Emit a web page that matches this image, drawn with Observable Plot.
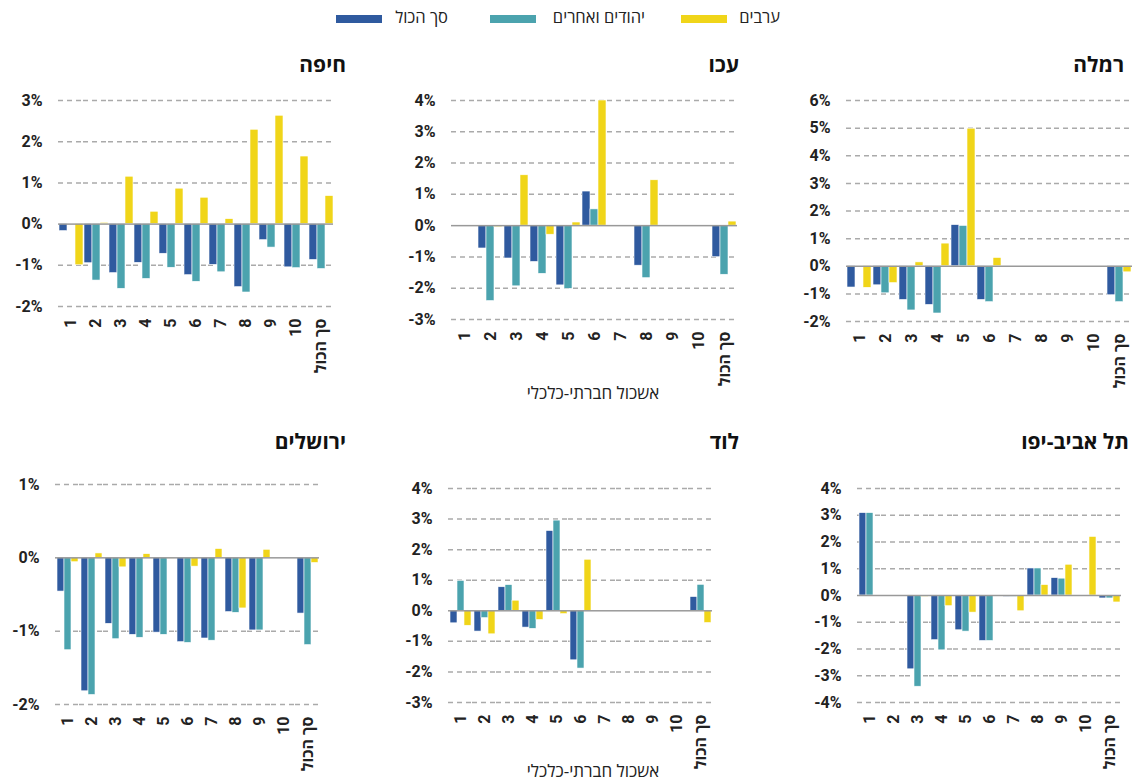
<!DOCTYPE html>
<html><head><meta charset="utf-8">
<script src="https://cdn.jsdelivr.net/npm/d3@7"></script>
<script src="https://cdn.jsdelivr.net/npm/@observablehq/plot@0.6"></script>
<style>
body{margin:0;background:#fff}
#root{position:relative;width:1135px;height:781px;overflow:hidden;background:#fff;font-family:"Open Sans","Liberation Sans",sans-serif}
.panel{position:absolute}
.panel svg text{font-size:16px;font-weight:700;fill:#222}
.title{position:absolute;font-weight:700;font-size:21px;line-height:21px;color:#111;direction:rtl;text-align:right;white-space:nowrap}
.xlabel{position:absolute;font-size:17px;line-height:17px;font-weight:500;color:#222;direction:rtl;white-space:nowrap;transform:translate(-50%,-50%)}
.sw{position:absolute;top:15px;width:46px;height:8px}
.lab{position:absolute;top:7px;font-size:16.5px;line-height:20px;font-weight:500;color:#222;direction:rtl;white-space:nowrap}
</style>
</head><body>
<div id="root"></div>
<script>
// ---- data ----
const categories = ["1","2","3","4","5","6","7","8","9","10","סך הכול"];
const series = ["סך הכול","יהודים ואחרים","ערבים"];
const colors = ["#2F5A9F","#4BA3AE","#F0D519"];

const haifaTotal = [-0.17,-0.95,-1.19,-0.94,-0.72,-1.24,-0.99,-1.53,-0.39,-1.05,-0.87];
const haifaJews  = [null,-1.37,-1.57,-1.33,-1.06,-1.40,-1.17,-1.66,-0.57,-1.07,-1.09];
const haifaArabs = [-1.00,0.03,1.15,0.30,0.86,0.64,0.12,2.29,2.63,1.64,0.68];
const haifaTicks = [-2,-1,0,1,2,3];

const akkoTotal = [null,-0.73,-1.05,-1.16,-1.91,1.09,null,-1.28,null,null,-1.01];
const akkoJews  = [null,-2.41,-1.94,-1.54,-2.02,0.52,null,-1.68,null,null,-1.57];
const akkoArabs = [null,-0.05,1.61,-0.29,0.10,4.00,null,1.45,null,null,0.13];
const akkoTicks = [-3,-2,-1,0,1,2,3,4];

const ramlaTotal = [-0.77,-0.69,-1.22,-1.40,1.49,-1.22,null,null,null,null,-1.05];
const ramlaJews  = [null,-0.98,-1.60,-1.71,1.46,-1.30,null,null,null,null,-1.30];
const ramlaArabs = [-0.78,-0.61,0.14,0.82,4.98,0.30,null,null,null,null,-0.22];
const ramlaTicks = [-2,-1,0,1,2,3,4,5,6];

const jlmTotal = [-0.46,-1.82,-0.90,-1.05,-1.02,-1.15,-1.10,-0.74,-0.99,null,-0.76];
const jlmJews  = [-1.26,-1.87,-1.11,-1.09,-1.05,-1.16,-1.13,-0.75,-0.99,null,-1.19];
const jlmArabs = [-0.06,0.06,-0.13,0.05,-0.01,-0.12,0.12,-0.69,0.11,null,-0.07];
const jlmTicks = [-2,-1,0,1];

const lodTotal = [-0.41,-0.68,0.77,-0.55,2.61,-1.62,null,null,null,null,0.45];
const lodJews  = [0.98,-0.24,0.84,-0.59,2.95,-1.89,null,null,null,null,0.85];
const lodArabs = [-0.49,-0.77,0.33,-0.30,-0.11,1.67,null,null,null,null,-0.40];
const lodTicks = [-3,-2,-1,0,1,2,3,4];

const tlvTotal = [3.08,null,-2.76,-1.67,-1.30,-1.70,-0.05,1.01,0.65,null,-0.11];
const tlvJews  = [3.08,null,-3.41,-2.05,-1.35,-1.70,-0.05,1.01,0.63,null,-0.11];
const tlvArabs = [null,null,-0.05,-0.40,-0.64,null,-0.59,0.39,1.15,2.19,-0.26];
const tlvTicks = [-4,-3,-2,-1,0,1,2,3,4];

const xTitle = "אשכול חברתי-כלכלי";

// ---- layout ----
const root = document.getElementById("root");

function panel(p) {
  const data = [];
  categories.forEach((c, i) => {
    [p.total, p.jews, p.arabs].forEach((arr, s) => {
      data.push({cat: c, series: series[s], value: arr[i]});
    });
  });
  const ticks = p.ticks;
  const chart = Plot.plot({
    width: p.width, height: p.height,
    marginLeft: p.ml, marginRight: p.mr, marginTop: p.mt, marginBottom: p.mb,
    style: {fontFamily: "Roboto, 'Open Sans', sans-serif", fontSize: "16px", fontWeight: 700, color: "#222", background: "transparent", overflow: "visible"},
    facet: {data, x: "cat"},
    fx: {domain: categories, padding: 0, tickRotate: -90, tickSize: 0, tickPadding: 12, label: null},
    x: {domain: series, paddingInner: 0, paddingOuter: 0.06, axis: null},
    y: {domain: [ticks[0], ticks[ticks.length - 1]], ticks, tickFormat: d => d + "%", tickSize: 0, tickPadding: 16, label: null},
    color: {domain: series, range: colors},
    marks: [
      Plot.ruleY(ticks.filter(t => t !== 0), {stroke: "#aaa", strokeWidth: 1.5, strokeDasharray: "5,4"}),
      Plot.barY(data, {x: "series", y1: 0, y2: "value", fill: "series", stroke: "#fff", strokeWidth: 0.6}),
      Plot.ruleY([0], {stroke: "#999", strokeWidth: 1.5})
    ]
  });
  const div = document.createElement("div");
  div.className = "panel";
  div.style.left = p.left + "px";
  div.style.top = p.top + "px";
  div.appendChild(chart);
  root.appendChild(div);

  const t = document.createElement("div");
  t.className = "title";
  t.textContent = p.title;
  t.style.right = (1135 - p.titleRight) + "px";
  t.style.top = p.titleTop + "px";
  root.appendChild(t);
}

panel({title: "חיפה", left: 0, top: 90, width: 346, height: 286, ml: 53, mr: 8, mt: 10, mb: 70,
  total: haifaTotal, jews: haifaJews, arabs: haifaArabs, ticks: haifaTicks, titleRight: 346, titleTop: 54});
panel({title: "עכו", left: 380, top: 90, width: 365, height: 299, ml: 67, mr: 5, mt: 10, mb: 70,
  total: akkoTotal, jews: akkoJews, arabs: akkoArabs, ticks: akkoTicks, titleRight: 739, titleTop: 54});
panel({title: "רמלה", left: 760, top: 90, width: 375, height: 301, ml: 82, mr: 0, mt: 10, mb: 70,
  total: ramlaTotal, jews: ramlaJews, arabs: ramlaArabs, ticks: ramlaTicks, titleRight: 1124, titleTop: 54});
panel({title: "ירושלים", left: 0, top: 474, width: 330, height: 300, ml: 53, mr: 10, mt: 10, mb: 70,
  total: jlmTotal, jews: jlmJews, arabs: jlmArabs, ticks: jlmTicks, titleRight: 346, titleTop: 431});
panel({title: "לוד", left: 380, top: 478, width: 340, height: 294, ml: 67, mr: 7, mt: 10, mb: 70,
  total: lodTotal, jews: lodJews, arabs: lodArabs, ticks: lodTicks, titleRight: 739, titleTop: 431});
panel({title: "תל אביב-יפו", left: 760, top: 478, width: 370, height: 294, ml: 96, mr: 8, mt: 10, mb: 70,
  total: tlvTotal, jews: tlvJews, arabs: tlvArabs, ticks: tlvTicks, titleRight: 1129, titleTop: 431});

[[593, 392], [593, 770]].forEach(([x, y]) => {
  const d = document.createElement("div");
  d.className = "xlabel";
  d.textContent = xTitle;
  d.style.left = x + "px";
  d.style.top = y + "px";
  root.appendChild(d);
});

// legend
const swatchLeft = [336, 490, 681];
const labelRight = [448, 645, 780];
series.forEach((s, i) => {
  const sw = document.createElement("div");
  sw.className = "sw";
  sw.style.left = swatchLeft[i] + "px";
  sw.style.background = colors[i];
  root.appendChild(sw);
  const lab = document.createElement("div");
  lab.className = "lab";
  lab.textContent = s;
  lab.style.right = (1135 - labelRight[i]) + "px";
  root.appendChild(lab);
});
</script>
</body></html>
